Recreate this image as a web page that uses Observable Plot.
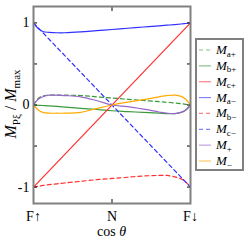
<!DOCTYPE html>
<html><head><meta charset="utf-8">
<script src="https://cdn.jsdelivr.net/npm/d3@7"></script>
<script src="https://cdn.jsdelivr.net/npm/@observablehq/plot@0.6"></script>
<style>
body{margin:0;background:#fff}
#wrap{position:relative;width:249px;height:241px}
svg text{font-family:"Liberation Serif","DejaVu Serif",serif}
#ylabel{position:absolute;width:140px;height:20px;line-height:20px;text-align:center;
  font-family:"Liberation Serif","DejaVu Serif",serif;font-size:16px;color:#000;
  transform:rotate(-90deg);transform-origin:50% 50%;white-space:nowrap}
#ylabel i{font-style:italic}
#ylabel sub{font-size:11px;vertical-align:-3.5px;line-height:0}
</style>
</head><body><div id="wrap"></div>
<script>
// curve sample positions along cos θ (0 = F↑, 0.5 = N, 1 = F↓)
const t = [0, 0.03, 0.06, 0.1, 0.15, 0.2, 0.3, 0.4, 0.5, 0.6, 0.7, 0.8, 0.85, 0.9, 0.94, 0.97, 1];
const tLine = [0, 1];
const Ma_plus  = [0, 0.08, 0.11, 0.12, 0.12, 0.12, 0.115, 0.1, 0.085, 0.07, 0.055, 0.04, 0.033, 0.025, 0.016, 0.008, 0];
const Mb_plus  = [0, -0.003, -0.006, -0.01, -0.017, -0.025, -0.04, -0.055, -0.07, -0.08, -0.09, -0.1, -0.105, -0.105, -0.09, -0.06, 0];
const Mc_plus  = [-1, 1];
const Ma_minus = [1, 0.93, 0.895, 0.885, 0.88, 0.88, 0.89, 0.905, 0.92, 0.935, 0.95, 0.965, 0.972, 0.98, 0.987, 0.993, 1];
const Mb_minus = [-1, -0.99, -0.98, -0.97, -0.96, -0.95, -0.93, -0.91, -0.895, -0.88, -0.865, -0.858, -0.858, -0.875, -0.9, -0.94, -1];
const Mc_minus = [1, -1];
const M_plus   = [0, 0.07, 0.1, 0.12, 0.12, 0.115, 0.1, 0.055, 0, -0.02, -0.05, -0.085, -0.1, -0.105, -0.09, -0.06, 0];
const M_minus  = [0, -0.06, -0.09, -0.1, -0.1, -0.1, -0.09, -0.045, 0, 0.035, 0.065, 0.1, 0.115, 0.12, 0.105, 0.07, 0];

const xTicks = [0, 0.5, 1];
const xTickLabels = ["F↑", "N", "F↓"];
const yTicksLabeled = [-1, 0, 1];
const yTickLabels = ["-1", "0", "1"];
const yTicksAll = [-1, -0.5, 0, 0.5, 1];

const series = [
  {sub: "a+", xs: t, ys: Ma_plus, color: "#3a9a3a", dash: "4,3"},
  {sub: "b+", xs: t, ys: Mb_plus, color: "#3a9a3a", dash: null},
  {sub: "c+", xs: tLine, ys: Mc_plus, color: "#ff3030", dash: null},
  {sub: "a−", xs: t, ys: Ma_minus, color: "#3030ff", dash: null},
  {sub: "b−", xs: t, ys: Mb_minus, color: "#ff3030", dash: "4,3"},
  {sub: "c−", xs: tLine, ys: Mc_minus, color: "#3030ff", dash: "4,3"},
  {sub: "+", xs: t, ys: M_plus, color: "#9966cc", dash: null},
  {sub: "−", xs: t, ys: M_minus, color: "#ffaa00", dash: null}
];

const lineMarks = series.map(s => {
  const rows = s.xs.map((x, i) => ({x, y: s.ys[i]}));
  return Plot.line(rows, {x: "x", y: "y", stroke: s.color, strokeWidth: 1.2,
    strokeDasharray: s.dash, curve: "catmull-rom"});
});

const blank = () => "";
const plot = Plot.plot({
  width: 249, height: 241,
  marginLeft: 33, marginRight: 59, marginTop: 6, marginBottom: 38,
  style: {fontFamily: "Liberation Serif, serif", fontSize: "14px", color: "#000", background: "#fff"},
  x: {domain: [0, 1]},
  y: {domain: [-1.2, 1.2]},
  marks: [
    ...lineMarks,
    Plot.axisY(yTicksAll, {anchor: "left", tickSize: -4, tickFormat: blank, label: null}),
    Plot.axisY(yTicksAll, {anchor: "right", tickSize: -4, tickFormat: blank, label: null}),
    Plot.axisY(yTicksLabeled, {anchor: "left", tickSize: 0, tickPadding: 4, fontSize: 14, tickFormat: d => yTickLabels[yTicksLabeled.indexOf(d)], label: null}),
    Plot.axisX([0.5], {anchor: "bottom", tickSize: -4, tickFormat: blank, label: null}),
    Plot.axisX([0.5], {anchor: "top", tickSize: -4, tickFormat: blank, label: null}),
    Plot.axisX(xTicks, {anchor: "bottom", tickSize: 0, tickPadding: 8, fontSize: 14, tickFormat: d => xTickLabels[xTicks.indexOf(d)], label: null}),
    Plot.frame({stroke: "#808080", strokeWidth: 2})
  ]
});
const wrap = document.getElementById("wrap");
wrap.appendChild(plot);

const svg = d3.select(plot);
const xs = plot.scale("x");
const ys = plot.scale("y");
// x label: cos θ
const xl = svg.append("text").attr("x", xs.apply(0.5)).attr("y", 236)
  .attr("text-anchor", "middle").style("font-size", "14px").attr("fill", "#000");
xl.append("tspan").text("cos ");
xl.append("tspan").style("font-style", "italic").text("θ");

// y label: M_Pξ / M_max (HTML, rotated around its centre at y = 0)
const yl = document.createElement("div");
yl.id = "ylabel";
yl.innerHTML = "<i>M</i><sub>Pξ</sub> / <i>M</i><sub>max</sub>";
const yc = ys.apply(0) - 1;
yl.style.left = (11 - 70) + "px";
yl.style.top = (yc - 10) + "px";
wrap.appendChild(yl);

// legend
const lg = svg.append("g");
lg.append("rect").attr("x", 196).attr("y", 39).attr("width", 47).attr("height", 131)
  .attr("fill", "#fff").attr("stroke", "#808080").attr("stroke-width", 2);
series.forEach((s, i) => {
  const cy = 50 + i * 15.86;
  lg.append("line").attr("x1", 199).attr("x2", 211).attr("y1", cy).attr("y2", cy)
    .attr("stroke", s.color).attr("stroke-opacity", 0.6).attr("stroke-width", 1.2)
    .attr("stroke-dasharray", s.dash);
  const tx = lg.append("text").attr("x", 216).attr("y", cy + 4).attr("text-anchor", "start")
    .style("font-size", "13px").attr("fill", "#000");
  tx.append("tspan").style("font-style", "italic").text("M");
  tx.append("tspan").style("font-size", "9px").attr("dy", 2.5).text(s.sub);
});
</script>
</body></html>
